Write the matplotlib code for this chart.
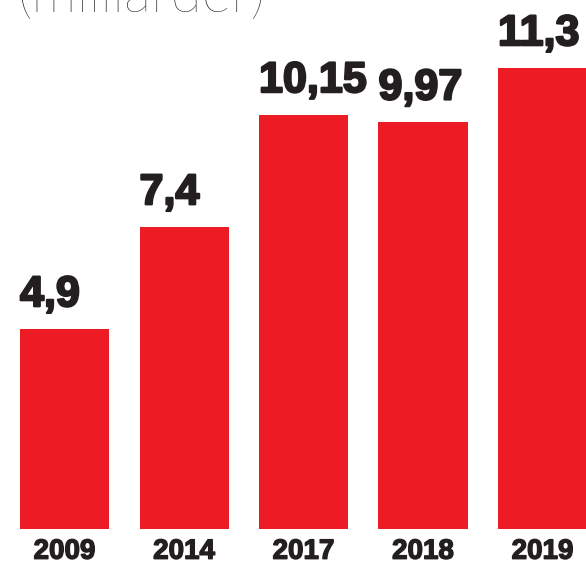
import matplotlib
matplotlib.use('Agg')
import matplotlib.pyplot as plt
import matplotlib.patheffects as pe
import numpy as np

years = ['2009', '2014', '2017', '2018', '2019']
values = [4.9, 7.4, 10.15, 9.97, 11.3]
value_labels = ['4,9', '7,4', '10,15', '9,97', '11,3']
unit_text = '(milliarder)'

red = '#ED1C24'
dark = '#231F20'

fig = plt.figure(figsize=(5.86, 5.66), dpi=100)
ax = fig.add_axes([0, 1 - 529 / 566., 1, 529 / 566.])

x = np.arange(len(years))
bw = 0.745
ax.bar(x, values, width=bw, color=red, linewidth=0)

heavy = [pe.withStroke(linewidth=1.6, foreground=dark)]
for xi, v, lab in zip(x, values, value_labels):
    ax.annotate(lab, (xi - bw / 2, v), xytext=(0, 10), textcoords='offset points',
                ha='left', va='bottom', fontsize=31, fontweight='bold',
                family=['Liberation Sans', 'DejaVu Sans'], color=dark,
                path_effects=heavy)

ax.set_xlim(-0.54, 4.364)
ax.set_ylim(0, 12.97)
ax.set_xticks(x)
ax.set_xticklabels(years, fontsize=20, fontweight='bold',
                   family=['Liberation Sans', 'DejaVu Sans'], color=dark)
for t in ax.get_xticklabels():
    t.set_path_effects([pe.withStroke(linewidth=1.0, foreground=dark)])
ax.tick_params(axis='x', length=0, pad=7)
ax.set_yticks([])
for s in ax.spines.values():
    s.set_visible(False)

fig.text(17 / 586., 1 - 12 / 566., unit_text, ha='left', va='baseline',
         fontsize=41, fontweight='light', family=['Lato', 'DejaVu Sans'], color=dark)

fig.savefig('out.png', dpi=100)
